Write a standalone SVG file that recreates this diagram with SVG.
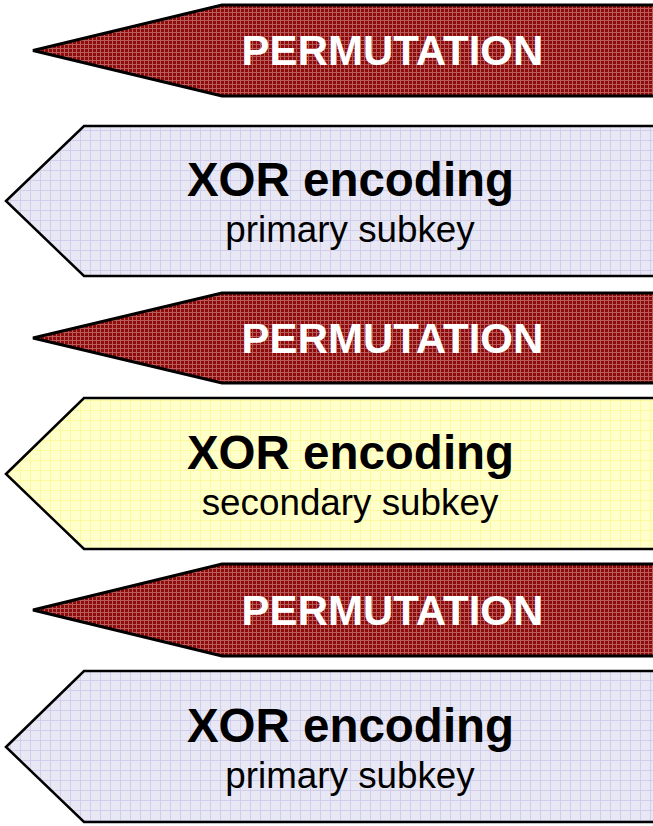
<svg xmlns="http://www.w3.org/2000/svg" width="653" height="826" viewBox="0 0 653 826">
  <defs>
    <!-- fine cross-hatch on dark red -->
    <pattern id="redWeave" width="4" height="4" patternUnits="userSpaceOnUse">
      <rect width="4" height="4" fill="#8c0b0b"/>
      <rect x="0" y="0" width="4" height="1" fill="#bb5c5c"/>
      <rect x="0" y="0" width="1" height="4" fill="#bb5c5c"/>
    </pattern>
    <!-- graph-paper grid, lavender -->
    <pattern id="blueGrid" width="10" height="10" patternUnits="userSpaceOnUse">
      <rect width="10" height="10" fill="#e8e8f4"/>
      <rect x="0" y="0" width="10" height="1" fill="#d2cdec"/>
      <rect x="0" y="0" width="1" height="10" fill="#d2cdec"/>
    </pattern>
    <!-- graph-paper grid, pale yellow -->
    <pattern id="yellowGrid" width="10" height="10" patternUnits="userSpaceOnUse">
      <rect width="10" height="10" fill="#ffffcc"/>
      <rect x="0" y="0" width="10" height="1" fill="#fdfa9e"/>
      <rect x="0" y="0" width="1" height="10" fill="#fdfa9e"/>
    </pattern>
  </defs>
  <style>
    .perm { fill: url(#redWeave); stroke: #000; stroke-width: 3; stroke-linejoin: miter; }
    .xor { stroke: #000; stroke-width: 2.5; stroke-linejoin: miter; }
    .blue { fill: url(#blueGrid); }
    .yellow { fill: url(#yellowGrid); }
    .permText { font-family: "Liberation Sans", Arial, sans-serif; font-weight: bold; font-size: 42px; fill: #fff; text-anchor: middle; }
    .title { font-family: "Liberation Sans", Arial, sans-serif; font-weight: bold; font-size: 47.5px; fill: #000; text-anchor: middle; }
    .sub { font-family: "Liberation Sans", Arial, sans-serif; font-size: 36.8px; fill: #000; text-anchor: middle; }
  </style>
  <rect width="653" height="826" fill="#fff"/>

  <g id="permutation-1">
    <polygon class="perm" points="33,50.5 222,5 665,5 665,96 222,96"/>
    <text class="permText" x="392.5" y="65">PERMUTATION</text>
  </g>

  <g id="xor-primary-1">
    <polygon class="xor blue" points="6,201 84,126 665,126 665,276 84,276"/>
    <text class="title" x="350.5" y="196">XOR encoding</text>
    <text class="sub" x="350" y="242">primary subkey</text>
  </g>

  <g id="permutation-2">
    <polygon class="perm" points="33,338 222,293 665,293 665,383 222,383"/>
    <text class="permText" x="392.5" y="353">PERMUTATION</text>
  </g>

  <g id="xor-secondary">
    <polygon class="xor yellow" points="6,474 84,398 665,398 665,549 84,549"/>
    <text class="title" x="350.5" y="469">XOR encoding</text>
    <text class="sub" x="350" y="515">secondary subkey</text>
  </g>

  <g id="permutation-3">
    <polygon class="perm" points="33,610 222,564 665,564 665,656 222,656"/>
    <text class="permText" x="392.5" y="625">PERMUTATION</text>
  </g>

  <g id="xor-primary-2">
    <polygon class="xor blue" points="6,747 84,671 665,671 665,822 84,822"/>
    <text class="title" x="350.5" y="742">XOR encoding</text>
    <text class="sub" x="350" y="788">primary subkey</text>
  </g>

  <g id="connectors"/>
</svg>
